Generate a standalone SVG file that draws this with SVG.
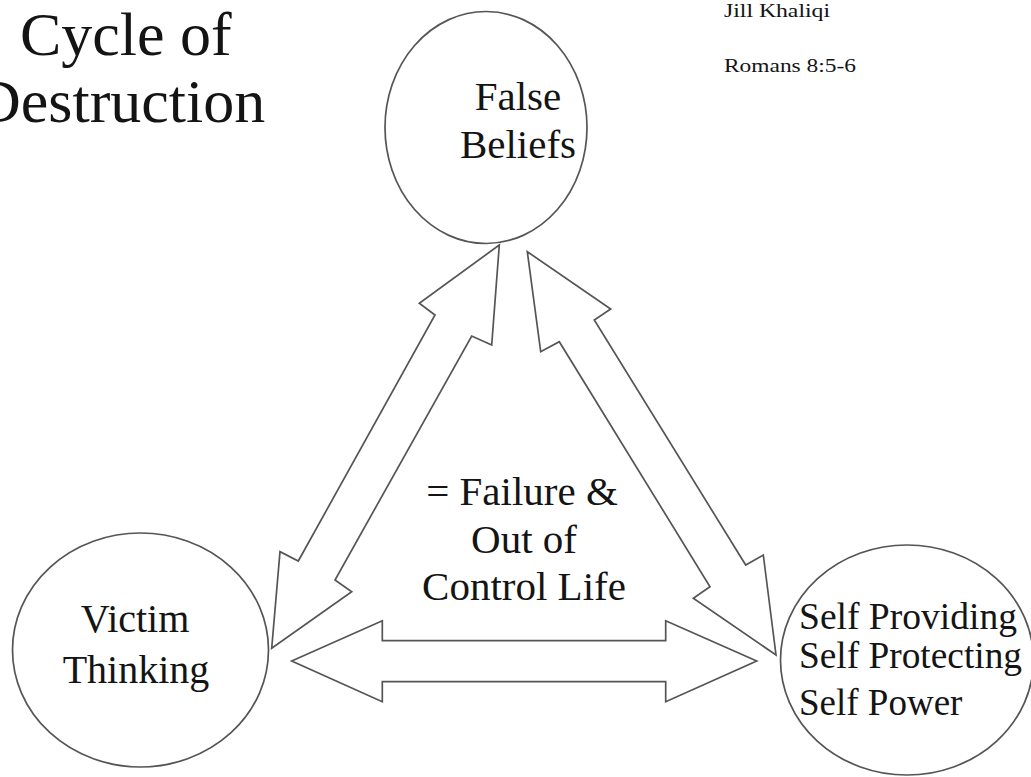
<svg xmlns="http://www.w3.org/2000/svg" width="1031" height="777" viewBox="0 0 1031 777">
<style>
.shape{fill:#fff;stroke:#555;stroke-width:1.7;stroke-linejoin:miter}
.t{font-family:"Liberation Serif","Times New Roman",serif;fill:#141414}
</style>
<rect width="1031" height="777" fill="#fff"/>
<g id="title">
<text class="t" x="20" y="55" font-size="62">Cycle of</text>
<text class="t" x="-24" y="122" font-size="62">Destruction</text>
</g>
<g id="author">
<text class="t" x="724" y="17" font-size="18" textLength="106" lengthAdjust="spacingAndGlyphs">Jill Khaliqi</text>
<text class="t" x="724" y="72" font-size="18" textLength="132" lengthAdjust="spacingAndGlyphs">Romans 8:5-6</text>
</g>
<g id="connectors">
<polygon class="shape" points="499.3,245 419.3,303.3 435,315 298.3,561 280,551.7 271.7,648.3 351.7,591.7 335,580 471.7,336 491.7,345"/>
<polygon class="shape" points="527.3,251.7 610.7,309 594.3,320 745.7,565 763.3,555 776,655 693.3,598.3 710,586.7 559.3,341.7 540.7,351.7"/>
<polygon class="shape" points="291.7,661 382.3,620.7 382.3,640.7 665.7,640.7 665.7,620.7 756.7,661 665.7,701.7 665.7,681.7 382.3,681.7 382.3,701.7"/>
</g>
<g id="false-beliefs">
<ellipse class="shape" cx="486" cy="127.5" rx="101" ry="116"/>
<text class="t" x="518" y="110" font-size="41" text-anchor="middle">False</text>
<text class="t" x="518" y="158" font-size="41" text-anchor="middle">Beliefs</text>
</g>
<g id="victim-thinking">
<ellipse class="shape" cx="140.5" cy="650" rx="128" ry="117"/>
<text class="t" x="135" y="632" font-size="40" text-anchor="middle">Victim</text>
<text class="t" x="136" y="683" font-size="40" text-anchor="middle">Thinking</text>
</g>
<g id="self">
<ellipse class="shape" cx="907" cy="660" rx="126.5" ry="115"/>
<text class="t" x="799" y="629" font-size="37" textLength="218" lengthAdjust="spacingAndGlyphs">Self Providing</text>
<text class="t" x="799" y="668" font-size="37" textLength="223" lengthAdjust="spacingAndGlyphs">Self Protecting</text>
<text class="t" x="799" y="715" font-size="37">Self Power</text>
</g>
<g id="result">
<text class="t" x="522" y="505" font-size="41" text-anchor="middle">= Failure &amp;</text>
<text class="t" x="524" y="553" font-size="41" text-anchor="middle">Out of</text>
<text class="t" x="524" y="600" font-size="41" text-anchor="middle">Control Life</text>
</g>
</svg>
